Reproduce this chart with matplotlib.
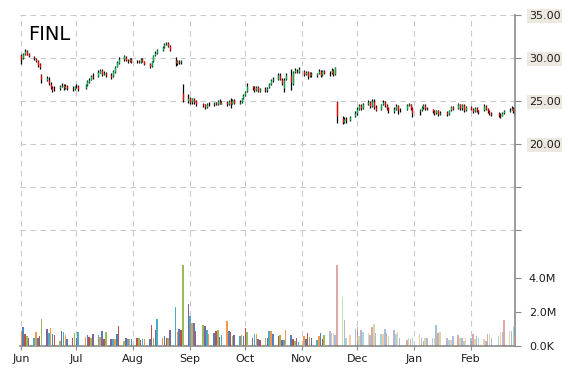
import numpy as np
import pandas as pd
import matplotlib
matplotlib.use("Agg")
import matplotlib.pyplot as plt
import matplotlib.dates as mdates

# --- data ---
ticker = "FINL"
first_day = "2015-06-01"
last_day = "2016-02-25"
holidays = ["2015-07-03", "2015-09-07", "2015-11-26", "2015-12-25",
            "2016-01-01", "2016-01-18", "2016-02-15"]

opens = [30.4, 30.0, 30.5, 30.8, 30.5, 30.1, 29.9, 29.7, 29.3, 28.0,
         27.5, 27.5, 27.0, 26.6, 26.5, 26.5, 26.7, 26.9, 26.5, 26.8,
         26.5, 26.4, 26.7, 26.8, 26.5, 26.9, 27.2, 27.5, 27.9,
         27.9, 28.3, 28.6, 28.1, 28.2, 28.0, 27.9, 28.4, 29.0, 29.4,
         29.9, 30.1, 29.8, 29.6, 29.9, 29.6, 29.7, 29.5, 29.9, 29.6,
         29.3, 29.1, 29.6, 30.3, 30.6, 30.9, 31.3, 31.6, 31.8, 31.4,
         29.8, 29.4, 29.7, 29.5, 25.9, 25.0, 25.4, 24.9, 25.2, 25.0,
         24.6, 24.6, 24.3, 24.7, 24.6, 24.8, 24.6, 25.0, 24.7,
         24.9, 24.6, 25.0, 24.7, 25.1, 24.8, 24.9, 25.3, 25.7, 26.2,
         26.7, 26.5, 26.3, 26.6, 26.2, 26.4, 26.3, 26.6, 27.0, 27.4,
         27.6, 28.0, 27.5, 26.5, 27.6, 28.0, 27.0, 28.4, 28.5, 28.4,
         28.5, 28.1, 28.4, 27.9, 28.3, 28.0, 28.2, 28.5, 28.0, 28.5,
         28.3, 28.2, 28.6, 28.1, 24.9, 23.0, 22.6, 22.9, 22.8,
         23.2, 23.6, 24.1, 24.5, 24.2, 24.6, 24.9, 24.4, 25.0, 24.3,
         24.1, 24.6, 24.9, 24.5, 24.2, 23.8, 24.1, 24.4, 23.9,
         24.1, 24.5, 24.6, 24.2, 23.8, 23.9, 24.3, 24.5, 24.2,
         24.1, 23.8, 23.6, 23.9, 23.5, 23.7, 23.5, 23.9, 24.3,
         24.2, 24.6, 24.2, 24.5, 23.9, 24.3, 24.1, 23.8, 24.2, 23.9,
         23.9, 24.4, 24.1, 23.8, 23.6, 23.6, 23.4, 23.3, 23.6,
         23.8, 24.0, 24.2, 23.4]

closes = [29.9, 30.5, 30.8, 30.4, 30.2, 30.0, 29.6, 29.2, 28.9, 27.6,
          27.7, 27.1, 26.6, 26.3, 26.5, 26.7, 26.9, 26.5, 26.8, 26.5,
          26.4, 26.7, 26.8, 26.4, 26.9, 27.3, 27.5, 27.9, 27.8,
          28.4, 28.6, 28.1, 28.3, 28.0, 27.8, 28.5, 29.0, 29.5, 29.9,
          30.2, 29.8, 29.6, 29.9, 29.5, 29.7, 29.5, 29.9, 29.6, 29.3,
          29.1, 29.6, 30.3, 30.6, 30.9, 31.3, 31.6, 31.8, 31.4, 30.9,
          29.4, 29.7, 29.5, 29.7, 25.1, 25.4, 24.9, 25.3, 24.9, 24.6,
          24.5, 24.3, 24.7, 24.6, 24.8, 24.6, 25.0, 24.7, 24.9,
          24.6, 25.0, 24.7, 25.1, 24.8, 24.9, 25.3, 25.7, 26.1, 26.8,
          26.5, 26.3, 26.6, 26.2, 26.4, 26.3, 26.5, 27.0, 27.4, 27.6,
          28.0, 27.6, 27.1, 27.5, 28.0, 27.2, 28.4, 28.6, 28.4, 28.7,
          28.1, 28.4, 27.9, 28.3, 28.0, 28.2, 28.5, 28.0, 28.5, 28.3,
          28.2, 28.6, 28.1, 28.9, 23.3, 22.6, 22.9, 22.8, 23.1,
          23.6, 24.1, 24.5, 24.2, 24.6, 24.9, 24.4, 25.0, 24.3, 24.0,
          24.6, 24.9, 24.5, 24.2, 23.9, 24.1, 24.4, 23.9, 24.0,
          24.5, 24.6, 24.2, 23.6, 23.9, 24.3, 24.5, 24.2, 24.1,
          23.8, 23.6, 23.9, 23.5, 23.6, 23.5, 23.9, 24.3, 24.1,
          24.6, 24.2, 24.5, 23.9, 24.3, 24.1, 23.8, 24.2, 23.9, 23.7,
          24.4, 24.1, 23.8, 23.6, 23.5, 23.4, 23.3, 23.6, 23.8,
          24.0, 24.2, 23.8, 23.9]

highs = [30.5, 30.6, 31.0, 30.9, 30.6, 30.2, 30.0, 29.8, 29.4, 28.1,
         27.9, 27.8, 27.2, 26.7, 26.7, 26.9, 27.1, 27.0, 27.0, 26.9,
         26.7, 26.8, 27.0, 26.9, 27.0, 27.4, 27.7, 28.0, 28.2,
         28.6, 28.7, 28.7, 28.5, 28.4, 28.2, 28.6, 29.1, 29.7, 30.1,
         30.4, 30.2, 29.9, 30.0, 30.0, 29.8, 29.8, 30.0, 30.0, 29.7,
         29.4, 29.7, 30.4, 30.8, 31.1, 31.4, 31.8, 31.9, 31.9, 31.5,
         30.1, 29.8, 29.8, 29.8, 27.0, 25.8, 25.5, 25.4, 25.3, 25.1,
         24.8, 24.7, 24.8, 24.9, 24.9, 24.9, 25.1, 25.2, 25.0,
         25.0, 25.1, 25.3, 25.2, 25.2, 25.1, 25.4, 25.8, 26.2, 27.1,
         26.8, 26.7, 26.7, 26.7, 26.5, 26.6, 26.6, 27.1, 27.6, 27.8,
         28.2, 28.2, 27.7, 27.7, 28.3, 28.7, 28.5, 28.8, 28.7, 28.9,
         28.6, 28.5, 28.5, 28.4, 28.4, 28.3, 28.7, 28.6, 28.6, 28.6,
         28.5, 28.8, 28.7, 29.0, 25.0, 23.2, 23.1, 23.1, 23.2,
         23.8, 24.3, 24.7, 24.6, 24.8, 25.1, 25.0, 25.2, 25.2, 24.5,
         24.7, 25.1, 25.0, 24.6, 24.3, 24.3, 24.6, 24.5, 24.2,
         24.6, 24.8, 24.7, 24.3, 24.1, 24.4, 24.6, 24.6, 24.3,
         24.1, 23.9, 24.0, 24.0, 23.8, 23.8, 24.0, 24.4, 24.4,
         24.8, 24.7, 24.6, 24.6, 24.4, 24.4, 24.2, 24.3, 24.3, 24.0,
         24.6, 24.5, 24.2, 23.9, 23.7, 23.7, 23.6, 23.7, 24.0,
         24.2, 24.4, 24.3, 24.0]

lows = [29.3, 29.9, 30.4, 30.3, 30.1, 29.8, 29.5, 29.0, 28.7, 27.1,
        27.3, 26.9, 26.4, 26.1, 26.2, 26.3, 26.6, 26.3, 26.4, 26.3,
        26.2, 26.3, 26.5, 26.2, 26.4, 26.8, 27.1, 27.4, 27.6,
        27.8, 28.2, 27.9, 28.0, 27.8, 27.6, 27.8, 28.3, 28.9, 29.3,
        29.7, 29.6, 29.4, 29.5, 29.4, 29.4, 29.4, 29.4, 29.5, 29.2,
        28.8, 29.0, 29.5, 30.2, 30.5, 30.8, 31.2, 31.5, 31.3, 30.8,
        29.1, 29.2, 29.3, 29.3, 24.9, 24.8, 24.7, 24.7, 24.7, 24.4,
        24.3, 24.1, 24.2, 24.4, 24.4, 24.5, 24.5, 24.6, 24.6,
        24.4, 24.5, 24.2, 24.6, 24.7, 24.6, 24.8, 25.2, 25.6, 26.1,
        26.3, 26.1, 26.2, 26.0, 26.1, 26.0, 26.1, 26.5, 26.9, 27.2,
        27.4, 27.4, 26.9, 26.1, 27.4, 26.3, 26.9, 28.3, 28.2, 28.2,
        27.9, 28.0, 27.6, 27.8, 27.8, 27.8, 28.1, 27.8, 27.9, 28.1,
        27.9, 28.1, 27.9, 28.0, 22.4, 22.3, 22.4, 22.5, 22.7,
        23.1, 23.4, 24.0, 24.0, 24.1, 24.5, 24.2, 24.3, 24.1, 23.8,
        24.0, 24.5, 24.3, 24.0, 23.6, 23.6, 24.0, 23.5, 23.7,
        24.0, 24.4, 24.0, 23.1, 23.4, 23.8, 24.1, 24.0, 23.9,
        23.6, 23.4, 23.5, 23.3, 23.4, 23.3, 23.4, 23.8, 23.9,
        24.1, 24.0, 24.0, 23.7, 23.8, 23.9, 23.6, 23.7, 23.7, 23.5,
        23.8, 23.9, 23.6, 23.4, 23.3, 23.1, 23.0, 23.2, 23.5,
        23.7, 23.9, 23.6, 23.3]

# volume in millions of shares
volumes = [0.9, 1.1, 0.7, 0.6, 0.5, 0.45, 0.8, 0.45, 0.6, 1.6,
           1.0, 0.75, 1.05, 0.7, 0.65, 0.3, 0.9, 0.85, 0.65, 0.4,
           0.45, 0.75, 0.5, 0.8, 0.55, 0.65, 0.55, 0.5, 0.7,
           0.65, 0.55, 0.9, 0.4, 0.8, 0.4, 0.4, 0.4, 0.7, 1.2,
           0.3, 0.5, 0.4, 0.4, 0.4, 0.45, 0.5, 0.35, 0.4, 0.4,
           0.4, 1.25, 0.45, 0.95, 1.6, 0.5, 0.6, 0.5, 0.45, 0.95,
           2.3, 0.8, 1.0, 0.95, 4.75, 2.5, 1.75, 1.35, 1.35, 0.9,
           1.25, 1.15, 0.95, 0.7, 0.75, 0.9, 0.95, 0.55, 0.65,
           1.5, 0.9, 0.8, 0.6, 0.65, 0.6, 0.65, 0.6, 1.05, 0.8,
           0.45, 0.7, 0.7, 0.4, 0.35, 0.45, 0.45, 0.9, 0.9, 0.7,
           0.6, 0.65, 0.35, 0.35, 0.95, 0.65, 0.4, 0.3, 0.45, 0.25,
           0.6, 0.4, 0.75, 0.55, 0.45, 0.35, 0.6, 0.75, 0.4, 0.65,
           0.9, 0.75, 0.75, 0.65, 4.75, 2.9, 1.55, 0.45, 0.65,
           1.0, 1.1, 0.6, 0.95, 0.8, 0.75, 0.65, 1.1, 1.3, 0.75,
           0.7, 0.7, 1.0, 0.75, 0.6, 0.95, 0.7, 0.8, 0.5,
           0.35, 0.45, 0.4, 0.45, 0.7, 0.45, 0.3, 0.45, 0.5,
           0.5, 0.5, 1.25, 0.75, 0.8, 0.45, 0.35, 0.35, 0.6,
           0.65, 0.5, 0.5, 0.3, 0.45, 0.5, 0.7, 0.4, 0.6, 0.5,
           0.4, 0.3, 0.7, 0.7, 0.45, 0.6, 0.8, 0.8, 1.55,
           0.9, 0.9, 1.1, 0.6]
fade_from = "2015-11-16"   # volume bars drawn lighter from here on

price_ticks = [10, 15, 20, 25, 30, 35]
price_labels = ["", "", "20.00", "25.00", "30.00", "35.00"]
vol_ticks = [0, 2, 4]
vol_labels = ["0.0K", "2.0M", "4.0M"]
month_starts = ["2015-06-01", "2015-07-01", "2015-08-01", "2015-09-01", "2015-10-01",
                "2015-11-01", "2015-12-01", "2016-01-01", "2016-02-01"]
month_labels = ["Jun", "Jul", "Aug", "Sep", "Oct", "Nov", "Dec", "Jan", "Feb"]

# --- dates ---
days = pd.bdate_range(first_day, last_day)
days = days[~days.isin(pd.to_datetime(holidays))]
assert len(days) == len(opens) == len(closes) == len(highs) == len(lows) == len(volumes)
x = mdates.date2num(days.to_pydatetime())

o = np.array(opens)
c = np.array(closes)
up = c >= o

# --- figure ---
W, H = 570, 370
fig = plt.figure(figsize=(W / 100, H / 100), dpi=100)
ax = fig.add_axes([20 / W, 24 / H, 495 / W, 331 / H])
ax2 = ax.twinx()

grid_col = "#C9C9C9"
axis_col = "#8A8A8A"
txt_col = "#1E1E1E"

# candles: black wick, coloured body
ax.vlines(x, lows, highs, color="black", linewidth=0.9, zorder=3)
ax.vlines(x, np.minimum(o, c), np.maximum(o, c),
          colors=np.where(up, "#00B050", "#FF0000"), linewidth=0.9, zorder=4)

# volume bars, Excel-like palette cycling day by day
palette = ["#4F81BD", "#C0504D", "#9BBB59", "#8064A2", "#4BACC6", "#F79646"]
fade = days >= pd.Timestamp(fade_from)
bar_cols = []
for i in range(len(x)):
    rgba = list(matplotlib.colors.to_rgba(palette[(i + 5) % len(palette)]))
    if fade[i]:
        rgba[3] = 0.5
    bar_cols.append(tuple(rgba))
ax2.bar(x, volumes, width=0.85, color=bar_cols, linewidth=0, zorder=2)

# limits
d0 = mdates.date2num(pd.Timestamp(first_day))
ax.set_xlim(d0 - 0.7, d0 + 268.9)
ax.set_ylim(35 - 331 / 8.6, 35)
ax2.set_ylim(0, 331 / 17.0)

# grid
ax.set_axisbelow(True)
ax.grid(True, color=grid_col, linestyle=(0, (5, 4)), linewidth=0.8)

# x axis
ax.set_xticks(mdates.date2num(pd.to_datetime(month_starts).to_pydatetime()))
ax.set_xticklabels(month_labels, fontsize=8, color=txt_col)
ax.tick_params(axis="x", length=3, color=axis_col, pad=3)

# price axis (right)
ax.yaxis.tick_right()
ax.set_yticks(price_ticks)
ax.set_yticklabels(price_labels, fontsize=8, color=txt_col)
ax.tick_params(axis="y", length=4, color=axis_col, pad=6)
for lab in ax.get_yticklabels():
    if lab.get_text():
        lab.set_bbox(dict(boxstyle="square,pad=0.15", facecolor="#ECE9E0", edgecolor="none"))

# volume axis (right)
ax2.set_yticks(vol_ticks)
ax2.set_yticklabels(vol_labels, fontsize=8, color=txt_col)
ax2.tick_params(axis="y", length=4, color=axis_col, pad=6)

for a in (ax, ax2):
    a.spines["top"].set_visible(False)
    a.spines["left"].set_visible(False)
ax2.spines["right"].set_visible(False)
ax2.spines["bottom"].set_visible(False)
ax.spines["right"].set_color(axis_col)
ax.spines["right"].set_linewidth(1.2)
ax.spines["bottom"].set_color(axis_col)
ax.spines["bottom"].set_linewidth(1.2)

fig.text(28 / W, 1 - 39.5 / H, ticker, fontsize=14, color="black", va="baseline", ha="left")

fig.savefig("out.png", dpi=100)
